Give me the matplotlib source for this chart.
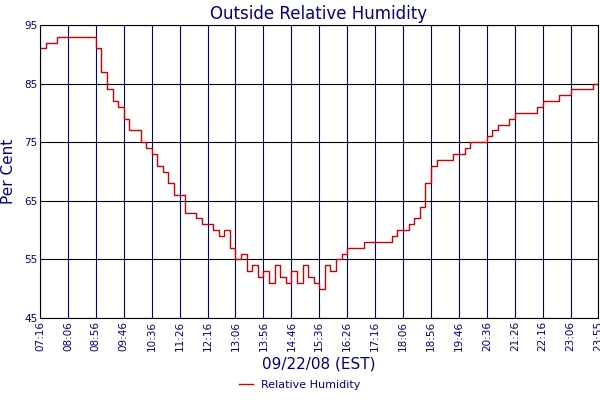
import matplotlib
matplotlib.use("Agg")
import matplotlib.pyplot as plt

start_min = 7*60+16
end_min = 23*60+55
hum = [91,92,92,93,93,93,93,93,93,93,
       91,87,84,82,81,79,77,77,75,74,
       73,71,70,68,66,66,63,63,62,61,
       61,60,59,60,57,55,56,53,54,52,
       53,51,54,52,51,53,51,54,52,51,
       50,54,53,55,56,57,57,57,58,58,
       58,58,58,59,60,60,61,62,64,68,
       71,72,72,72,73,73,74,75,75,75,
       76,77,78,78,79,80,80,80,80,81,
       82,82,82,83,83,84,84,84,84,85,85]
times = [start_min + 10*i for i in range(len(hum)-1)] + [end_min]
tick_mins = list(range(start_min, end_min, 50)) + [end_min]
tick_labels = [f"{m//60:02d}:{m%60:02d}" for m in tick_mins]
yticks = [45,55,65,75,85,95]

navy = "#000080"
fig = plt.figure(figsize=(6,4), dpi=100)
ax = fig.add_axes([40/600, 82/400, 558/600, 293/400])
ax.step(times, hum, where="post", color="#cc0000", lw=1, label="Relative Humidity")
ax.set_xlim(start_min, end_min)
ax.set_ylim(45, 95)
ax.set_xticks(tick_mins)
ax.set_xticklabels(tick_labels, rotation=90, color=navy, fontsize=7.5)
ax.set_yticks(yticks)
ax.set_yticklabels([str(v) for v in yticks], color=navy, fontsize=7.5)
ax.tick_params(length=0, pad=2)
ax.grid(True, axis="x", color=navy, lw=0.8)
ax.grid(True, axis="y", color="black", lw=0.8)
for s in ax.spines.values():
    s.set_color("black")
ax.set_title("Outside Relative Humidity", color=navy, fontsize=12, pad=4)
ax.set_ylabel("Per Cent", color=navy, fontsize=11, labelpad=6)
ax.set_xlabel("09/22/08 (EST)", color=navy, fontsize=11, labelpad=4)
fig.legend(loc="lower center", bbox_to_anchor=(0.5, 0.0), frameon=False,
           fontsize=8, labelcolor=navy, handlelength=1.2)
fig.savefig("out.png", dpi=100)
